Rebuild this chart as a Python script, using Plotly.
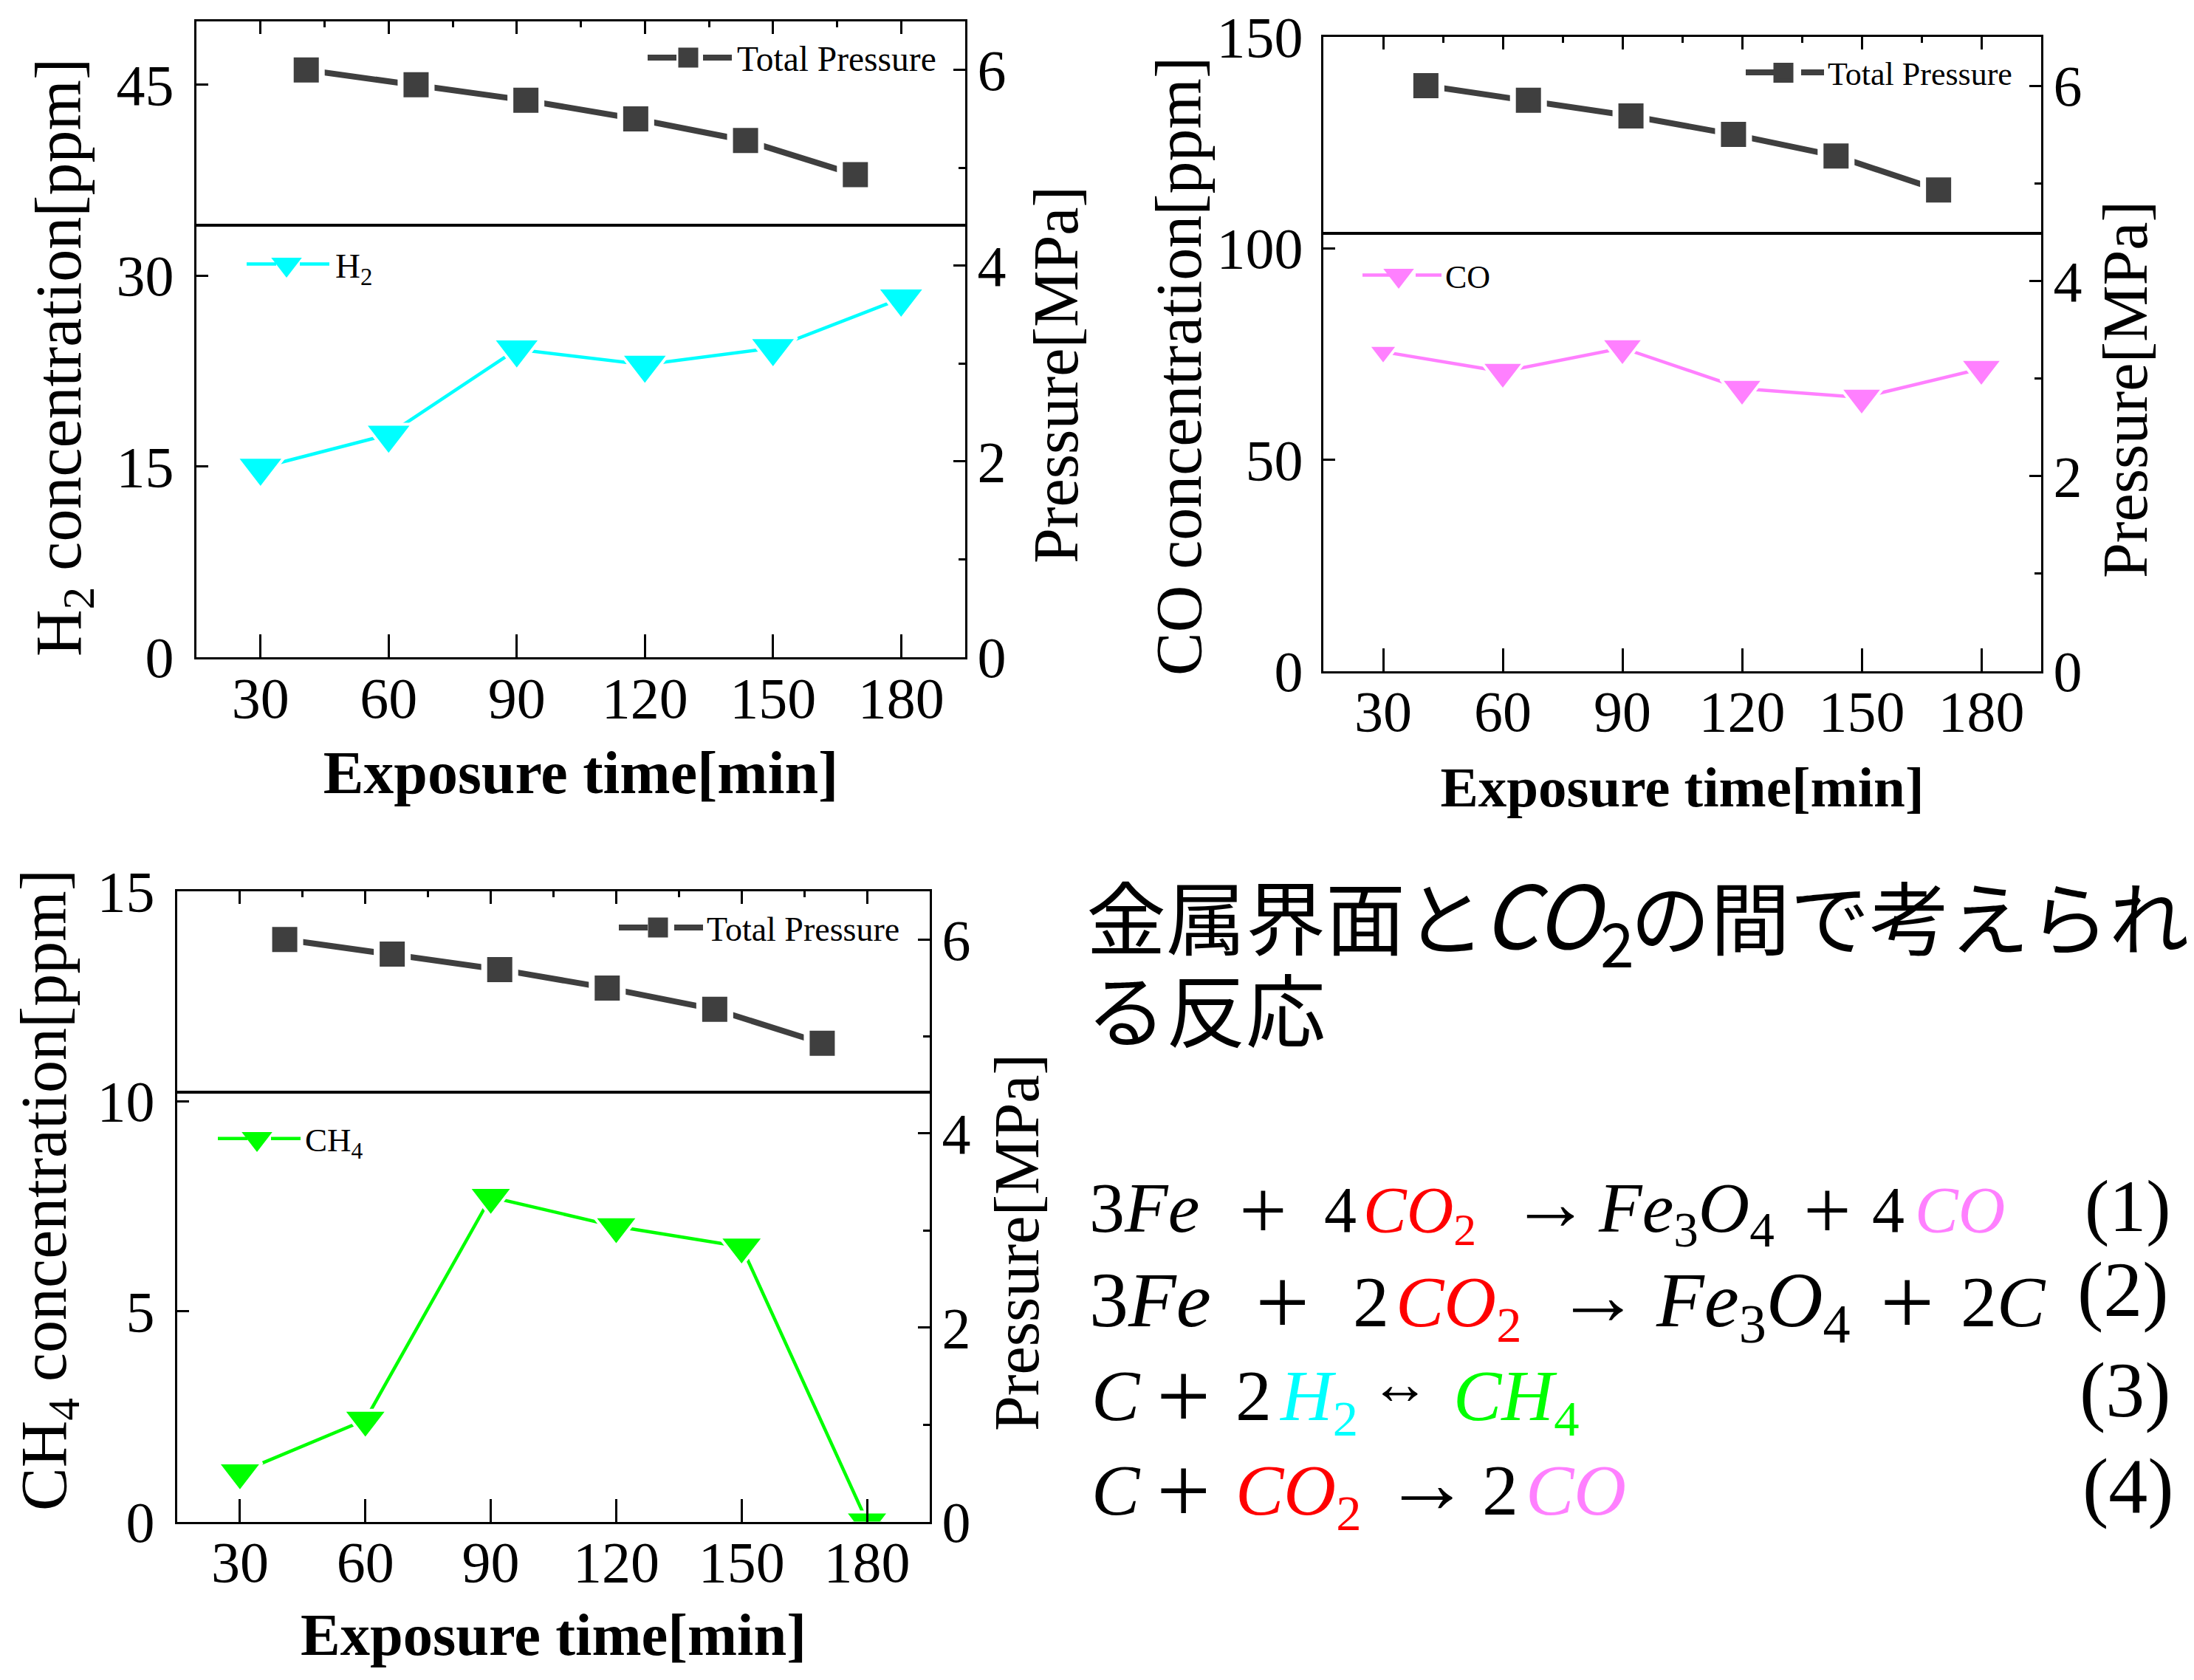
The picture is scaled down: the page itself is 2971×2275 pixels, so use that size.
import plotly.graph_objects as go

W, H = 2971, 2275

# ---------- data ----------
exposure_min = [30, 60, 90, 120, 150, 180]
total_pressure_mpa = [6.00, 5.85, 5.69, 5.50, 5.28, 4.93]
h2_ppm = [14.9, 17.5, 24.2, 23.0, 24.3, 28.2]
co_ppm = [75.5, 70.8, 76.4, 66.8, 64.7, 71.5]
ch4_ppm = [1.17, 2.42, 7.72, 7.02, 6.54, 0.0]
x_ticks = [30, 60, 90, 120, 150, 180]
h2_ticks = [0, 15, 30, 45]
co_ticks = [0, 50, 100, 150]
ch4_ticks = [0, 5, 10, 15]
pressure_ticks = [0, 2, 4, 6]

CYAN, PINK, GREEN, RED, DARK = "#00FFFF", "#FF80FF", "#00FF00", "#FF0000", "#3F3F3F"
SERIF = "Liberation Serif"
CJK = "Noto Sans CJK JP"


def fx(px):
    return px / W


def fy(py):
    return 1 - py / H


charts = [
    dict(box=(266, 1307, 28.5, 890), div=305, gas=h2_ppm, name="H<sub>2</sub>", color=CYAN,
         ticks=h2_ticks, ymax=50, ytitle="H<sub>2</sub> concentration[ppm]", size=[56] * 6,
         xt=82, lf=47.5, gf=47, xstand=30, ystand=12, lt=(86, 484), rt=(1430, 508),
         pk=(876, 78, 932, 998), gk=(333, 358, 388, 454)),
    dict(box=(1792, 2764, 50, 908.5), div=316, gas=co_ppm, name="CO", color=PINK,
         ticks=co_ticks, ymax=150, ytitle="CO concentration[ppm]", size=[35, 50, 50, 50, 50, 50],
         xt=77, lf=44, gf=44, xstand=33, ystand=9, lt=(1596, 496), rt=(2878, 528),
         pk=(2363, 98.5, 2415, 2475), gk=(1844, 373, 1894, 1957)),
    dict(box=(240, 1259, 1206.5, 2060.5), div=1479, gas=ch4_ppm, name="CH<sub>4</sub>", color=GREEN,
         ticks=ch4_ticks, ymax=15, ytitle="CH<sub>4</sub> concentration[ppm]", size=[52] * 6,
         xt=80.5, lf=46, gf=45, xstand=27, ystand=12, lt=(66, 1612), rt=(1377, 1683),
         pk=(837, 1256, 891, 957), gk=(294, 1542, 348, 413)),
]

fig = go.Figure()
layout = dict(
    width=W, height=H, margin=dict(l=0, r=0, t=0, b=0, autoexpand=False),
    paper_bgcolor="white", plot_bgcolor="white", font=dict(family=SERIF, color="black"),
    shapes=[], annotations=[], hovermode=False,
)
axis_common = dict(showgrid=False, zeroline=False, linecolor="black", tickcolor="black")
legend_count = 0


def add_legend(trace_kw, key, font_size, itemw):
    """Native legend entry (dashed sample line leaves a gap round the big key symbol)."""
    global legend_count
    legend_count += 1
    lid = "legend" if legend_count == 1 else f"legend{legend_count}"
    layout[lid] = dict(
        x=fx(key[0] - 4), y=fy(key[1]), xanchor="left", yanchor="middle",
        bgcolor="rgba(0,0,0,0)", borderwidth=0, itemwidth=itemw,
        font=dict(family=SERIF, size=font_size, color="black"),
    )
    trace_kw["legend"] = lid
    fig.add_trace(go.Scatter(**trace_kw))


def vtitle(center, s, size):
    layout["annotations"].append(dict(
        xref="paper", yref="paper", x=fx(center[0]), y=fy(center[1]), xanchor="center", yanchor="middle",
        text=s, textangle=-90, showarrow=False, borderpad=0, font=dict(family=SERIF, size=size, color="black")))


for k, c in enumerate(charts):
    L, R, T, B = c["box"]
    ix, iy = 3 * k + 1, 2 * k + 1
    xb, xt, xp = f"x{ix}", f"x{ix + 1}", f"x{ix + 2}"
    yl, yr = f"y{iy}", f"y{iy + 1}"
    dom_x, dom_y = [fx(L), fx(R)], [fy(B), fy(T)]
    name = lambda s: "xaxis" + s[1:] if s[0] == "x" else "yaxis" + s[1:]

    layout[name(xb)] = dict(
        axis_common, domain=dom_x, range=[15, 195], anchor=yl, side="bottom", showline=True, linewidth=3,
        tickmode="array", tickvals=x_ticks, ticks="inside", ticklen=31, tickwidth=2.5,
        tickfont=dict(size=78), ticklabelstandoff=-15,
        title=dict(text="<b>Exposure time[min]</b>", font=dict(size=c["xt"]), standoff=c["xstand"]),
    )
    layout[name(xt)] = dict(
        axis_common, domain=dom_x, range=[15, 195], anchor=yl, side="top", overlaying=xb, showline=True, linewidth=3,
        tickmode="array", tickvals=x_ticks, ticks="inside", ticklen=17, tickwidth=2.5, showticklabels=False,
        minor=dict(tickmode="array", tickvals=[45, 75, 105, 135, 165], ticks="inside", ticklen=8,
                   tickwidth=2.5, tickcolor="black"),
    )
    layout[name(xp)] = dict(domain=dom_x, range=[0, 210], anchor=yr, overlaying=xb, visible=False)
    layout[name(yl)] = dict(
        axis_common, domain=dom_y, range=[0, c["ymax"]], anchor=xb, side="left", showline=True, linewidth=3,
        tickmode="array", tickvals=c["ticks"], ticks="inside", ticklen=16, tickwidth=2.5,
        tickfont=dict(size=78), ticklabelstandoff=c["ystand"],
    )
    layout[name(yr)] = dict(
        axis_common, domain=dom_y, range=[0, 6.5], anchor=xb, side="right", overlaying=yl, showline=True, linewidth=3,
        tickmode="array", tickvals=pressure_ticks, ticks="inside", ticklen=16, tickwidth=2.5,
        minor=dict(tickmode="array", tickvals=[1, 3, 5], ticks="inside", ticklen=9, tickwidth=2.5, tickcolor="black"),
        tickfont=dict(size=78), ticklabelstandoff=-2,
    )
    vtitle(c["lt"], c["ytitle"], 88)
    vtitle(c["rt"], "Pressure[MPa]", 86)
    layout["shapes"].append(dict(type="line", xref="paper", yref="paper", x0=fx(L), x1=fx(R),
                                 y0=fy(c["div"]), y1=fy(c["div"]), line=dict(color="black", width=4)))

    # empty trace so that the top tick axis gets a subplot of its own
    fig.add_trace(go.Scatter(x=[None], y=[None], xaxis=xt, yaxis=yl, mode="lines", showlegend=False))

    # measured series
    fig.add_trace(go.Scatter(
        x=exposure_min, y=c["gas"], xaxis=xb, yaxis=yl, mode="lines+markers", showlegend=False,
        line=dict(color=c["color"], width=4.5),
        marker=dict(symbol="triangle-down", size=c["size"], color=c["color"], opacity=1,
                    line=dict(color="white", width=4))))
    fig.add_trace(go.Scatter(
        x=exposure_min, y=total_pressure_mpa, xaxis=xp, yaxis=yr, mode="lines+markers", showlegend=False,
        line=dict(color=DARK, width=8),
        marker=dict(symbol="square", size=42, color=DARK, line=dict(color="white", width=8))))

    # legend keys: native legend for sample line + text, big symbol placed underneath it
    lx, ly, mx, tx = c["pk"]
    add_legend(dict(
        x=[(mx - L) / (R - L) * 210], y=[(B - ly) / (B - T) * 6.5], xaxis=xp, yaxis=yr,
        mode="lines+markers", name="Total Pressure",
        line=dict(color=DARK, width=8, dash="39px,36px,39px,300px"),
        marker=dict(symbol="square", size=27, color=DARK)), (lx, ly), c["lf"], tx - lx - 6)
    lx, ly, mx, tx = c["gk"]
    add_legend(dict(
        x=[15 + (mx - L) / (R - L) * 180], y=[(B - ly) / (B - T) * c["ymax"]], xaxis=xb, yaxis=yl,
        mode="lines+markers", name=c["name"],
        line=dict(color=c["color"], width=4.5, dash="40px,32px,40px,300px"),
        marker=dict(symbol="triangle-down", size=36, color=c["color"])), (lx, ly), c["gf"], tx - lx - 6)


def text(px, baseline, s, size, family=SERIF, ascent=0.891):
    layout["annotations"].append(dict(
        xref="paper", yref="paper", x=fx(px), y=fy(baseline - ascent * size), xanchor="left", yanchor="top",
        text=s, showarrow=False, borderpad=0, align="left", font=dict(family=family, size=size, color="black")))


def col(s, c):
    return f'<span style="color:{c}">{s}</span>'


ZX = 1531 / 1568
zx = lambda z: 1440 + z * ZX

# heading
text(1470, 1284, "金属界面と", 108, CJK, 1.16)
text(2007, 1284, "<i>CO</i><sub>2</sub>", 118, CJK, 1.16)
text(2207, 1284, "の間で考えられ", 108, CJK, 1.16)
text(1470, 1409, "る反応", 108, CJK, 1.16)

CO2 = "<i>CO</i><sub>2</sub>"
Fe3O4 = "<i>Fe</i><sub>3</sub><i>O</i><sub>4</sub>"
# equation (1)
y1, s1 = 1667, 88
text(zx(35), y1, "3<i>Fe</i>", 96)
text(zx(243), y1 + 9, "+", 115)
text(zx(360), y1, "4", s1)
text(zx(415), y1, col(CO2, RED), s1)
text(zx(620), y1 - 3, "→", 107)
text(zx(740), y1, Fe3O4, 96)
text(zx(1025), y1 + 9, "+", 115)
text(zx(1120), y1, "4", s1)
text(zx(1180), y1, col("<i>CO</i>", PINK), s1)
text(zx(1415), 1666, "(1)", 100)
# equation (2)
y2, s2 = 1795, 98
text(zx(35), y2, "3<i>Fe</i>", 106)
text(zx(265), y2 + 11, "+", 130)
text(zx(400), y2, "2", s2)
text(zx(460), y2, col(CO2, RED), s2)
text(zx(682), y2 - 3, "→", 114)
text(zx(820), y2, Fe3O4, 106)
text(zx(1132), y2 + 11, "+", 130)
text(zx(1243), y2, "2<i>C</i>", s2)
text(zx(1405), 1781, "(2)", 106)
# equation (3)
y3, s3 = 1922, 98
text(zx(38), y3, "<i>C</i>", s3)
text(zx(128), y3 + 11, "+", 130)
text(zx(238), y3, "2", s3)
text(zx(298), y3, col("<i>H</i><sub>2</sub>", CYAN), s3)
text(zx(540), y3, col("<i>CH</i><sub>4</sub>", GREEN), s3)
text(1855, 1900, "↔", 80)
text(zx(1408), 1917, "(3)", 106)
# equation (4)
y4, s4 = 2050, 98
text(zx(38), y4, "<i>C</i>", s4)
text(zx(128), y4 + 11, "+", 130)
text(zx(238), y4, col(CO2, RED), s4)
text(zx(443), y4 - 3, "→", 116)
text(zx(580), y4, "2", s4)
text(zx(640), y4, col("<i>CO</i>", PINK), s4)
text(zx(1412), 2047, "(4)", 106)

fig.update_layout(**layout)
fig.write_html("out.html", config=dict(displayModeBar=False), post_script="document.body.style.margin='0';")
